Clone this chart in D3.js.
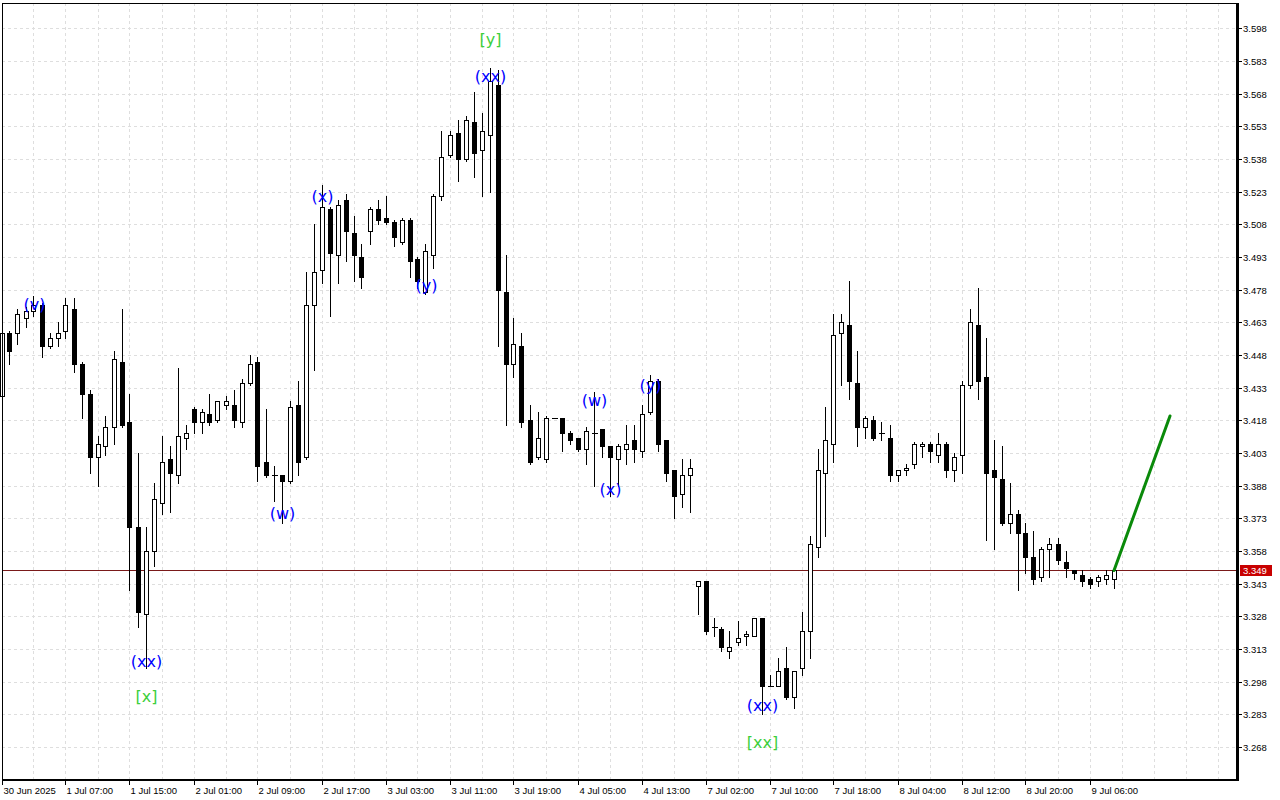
<!DOCTYPE html>
<html><head><meta charset="utf-8">
<script src="https://cdn.jsdelivr.net/npm/d3@7"></script>
<style>html,body{margin:0;padding:0;background:#fff;overflow:hidden;} svg{display:block;}</style>
</head><body><svg id="c" width="1280" height="800"></svg>
<script>
// ---- data (hourly candles) ----
const openP = [3.429,3.458,3.458,3.465,3.468,3.471,3.452,3.456,3.459,3.469,3.444,3.430,3.401,3.406,3.415,3.445,3.417,3.369,3.329,3.358,
3.380,3.400,3.393,3.410,3.423,3.417,3.421,3.418,3.425,3.425,3.417,3.435,3.445,3.399,3.393,3.393,3.390,3.425,3.401,3.471,
3.487,3.515,3.494,3.519,3.504,3.493,3.505,3.515,3.511,3.509,3.500,3.510,3.492,3.477,3.494,3.521,3.540,3.550,3.538,3.555,
3.542,3.549,3.572,3.477,3.444,3.452,3.418,3.401,3.400,3.419,3.419,3.412,3.410,3.405,3.412,3.414,3.406,3.400,3.405,3.409,
3.404,3.422,3.436,3.409,3.395,3.384,3.393,3.342,3.344,3.323,3.322,3.312,3.316,3.319,3.319,3.327,3.296,3.296,3.304,3.291,
3.304,3.321,3.360,3.394,3.407,3.458,3.462,3.435,3.415,3.418,3.412,3.410,3.393,3.395,3.398,3.406,3.407,3.402,3.407,3.395,
3.402,3.434,3.462,3.438,3.395,3.391,3.371,3.375,3.366,3.355,3.346,3.359,3.361,3.353,3.349,3.347,3.345,3.344,3.345,3.345];
const highP = [3.460,3.459,3.469,3.470,3.475,3.472,3.458,3.463,3.474,3.474,3.445,3.432,3.411,3.420,3.450,3.469,3.430,3.403,3.369,3.389,
3.411,3.406,3.442,3.416,3.424,3.423,3.430,3.427,3.429,3.432,3.437,3.448,3.447,3.423,3.397,3.393,3.427,3.436,3.486,3.508,
3.526,3.516,3.519,3.522,3.512,3.499,3.516,3.519,3.521,3.510,3.511,3.511,3.493,3.499,3.522,3.551,3.551,3.556,3.558,3.569,
3.559,3.580,3.579,3.494,3.465,3.458,3.425,3.422,3.420,3.419,3.419,3.413,3.410,3.415,3.431,3.414,3.406,3.407,3.416,3.416,
3.425,3.439,3.437,3.409,3.395,3.400,3.400,3.344,3.344,3.327,3.323,3.321,3.326,3.321,3.327,3.327,3.301,3.309,3.314,3.303,
3.330,3.365,3.405,3.424,3.467,3.467,3.482,3.450,3.420,3.420,3.417,3.416,3.395,3.398,3.408,3.408,3.408,3.412,3.408,3.403,
3.436,3.469,3.479,3.456,3.409,3.406,3.389,3.377,3.371,3.367,3.360,3.364,3.364,3.358,3.349,3.349,3.346,3.347,3.349,3.350];
const lowP = [3.428,3.444,3.453,3.461,3.466,3.447,3.451,3.452,3.456,3.440,3.419,3.394,3.388,3.402,3.407,3.415,3.340,3.323,3.304,3.351,
3.375,3.376,3.389,3.405,3.412,3.412,3.416,3.417,3.423,3.415,3.415,3.434,3.390,3.392,3.381,3.371,3.389,3.393,3.400,3.441,
3.481,3.466,3.481,3.491,3.482,3.479,3.499,3.508,3.508,3.498,3.499,3.484,3.479,3.476,3.488,3.519,3.539,3.528,3.537,3.530,
3.521,3.523,3.452,3.416,3.438,3.415,3.398,3.400,3.399,3.419,3.404,3.407,3.404,3.398,3.388,3.401,3.383,3.388,3.398,3.399,
3.401,3.421,3.404,3.390,3.373,3.378,3.376,3.329,3.320,3.319,3.312,3.309,3.315,3.315,3.319,3.283,3.296,3.296,3.290,3.286,
3.301,3.309,3.355,3.365,3.399,3.434,3.428,3.406,3.410,3.409,3.409,3.390,3.390,3.393,3.396,3.401,3.399,3.399,3.392,3.390,
3.394,3.433,3.428,3.363,3.359,3.370,3.366,3.340,3.348,3.343,3.344,3.346,3.352,3.346,3.345,3.342,3.341,3.342,3.343,3.341];
const closeP = [3.458,3.450,3.467,3.468,3.471,3.452,3.456,3.458,3.471,3.444,3.430,3.401,3.407,3.415,3.446,3.416,3.369,3.330,3.358,3.382,
3.399,3.394,3.411,3.412,3.417,3.422,3.417,3.427,3.427,3.418,3.435,3.444,3.397,3.393,3.393,3.390,3.424,3.399,3.471,3.486,
3.516,3.495,3.517,3.505,3.494,3.484,3.515,3.510,3.509,3.502,3.510,3.491,3.482,3.496,3.521,3.539,3.549,3.538,3.556,3.541,
3.551,3.574,3.478,3.444,3.453,3.417,3.399,3.410,3.419,3.419,3.412,3.409,3.405,3.413,3.412,3.406,3.401,3.406,3.407,3.405,
3.421,3.436,3.407,3.394,3.383,3.393,3.396,3.344,3.321,3.323,3.314,3.314,3.318,3.320,3.327,3.296,3.296,3.303,3.291,3.303,
3.321,3.361,3.395,3.409,3.457,3.463,3.436,3.415,3.419,3.410,3.412,3.393,3.395,3.396,3.407,3.407,3.404,3.407,3.395,3.401,
3.434,3.463,3.436,3.394,3.392,3.371,3.375,3.366,3.355,3.345,3.359,3.361,3.354,3.350,3.348,3.344,3.343,3.346,3.347,3.349];

const timeLabels = ["30 Jun 2025","1 Jul 07:00","1 Jul 15:00","2 Jul 01:00","2 Jul 09:00","2 Jul 17:00","3 Jul 03:00","3 Jul 11:00","3 Jul 19:00",
"4 Jul 05:00","4 Jul 13:00","7 Jul 02:00","7 Jul 10:00","7 Jul 18:00","8 Jul 04:00","8 Jul 12:00","8 Jul 20:00","9 Jul 06:00"];
const timeLabelBars = [0,8,16,24,32,40,48,56,64,72,80,88,96,104,112,120,128,136];
const gridBars = [4,8,12,16,20,24,28,32,36,40,44,48,52,56,60,64,68,72,76,80,84,88,92,96,100,104,108,112,116,120,124,128,132,136,140,144,148,152];
const priceTicks = [3.268,3.283,3.298,3.313,3.328,3.343,3.358,3.373,3.388,3.403,3.418,3.433,3.448,3.463,3.478,3.493,3.508,3.523,3.538,3.553,3.568,3.583,3.598];
const lastPrice = 3.349;
const forecastBars = [139, 146];
const forecastPrices = [3.349, 3.420];

const waveText   = ["(v)","(xx)","[x]","(w)","(x)","(y)","[y]","(xx)","(w)","(x)","(y)","(xx)","[xx]"];
const waveBar    = [4, 18, 18, 35, 40, 53, 61, 61, 74, 76, 81, 95, 95];
const wavePrice  = [3.471, 3.307, 3.291, 3.375, 3.521, 3.480, 3.593, 3.576, 3.427, 3.386, 3.434, 3.287, 3.270];
const waveDegree = ["minor","minor","major","minor","minor","minor","major","minor","minor","minor","minor","minor","major"];

// ---- layout ----
const L = 2, R = 1237, T = 3, B = 779;
const svg = d3.select("#c");
const x = d3.scaleLinear().domain([0, (R - L) / 8]).range([L + 0.5, R + 0.5]);
const y = d3.scaleLinear().domain([3.25321, 3.61109]).range([779, 0]);
const px = v => Math.round(x(v)) - 0.5;   // crisp pixel column centre
const py = v => Math.round(y(v)) + 0.5;

svg.append("rect").attr("width",1280).attr("height",800).attr("fill","#fff");

// grid
const g = svg.append("g").attr("stroke","#dedede").attr("stroke-dasharray","3,3").attr("shape-rendering","crispEdges");
g.selectAll("line.h").data(priceTicks).join("line")
  .attr("x1", L).attr("x2", R - 1).attr("y1", d => py(d)).attr("y2", d => py(d));
g.selectAll("line.v").data(gridBars.filter(b => x(b) < R - 2)).join("line")
  .attr("class","v")
  .attr("x1", d => px(d)).attr("x2", d => px(d)).attr("y1", T).attr("y2", B);

// last price line
svg.append("line").attr("x1", L).attr("x2", R).attr("y1", py(lastPrice)).attr("y2", py(lastPrice))
  .attr("stroke","#7a1a1a").attr("stroke-width",1).attr("shape-rendering","crispEdges");

// candles
const idx = d3.range(openP.length);
const cg = svg.append("g").attr("shape-rendering","crispEdges");
cg.selectAll("line.w").data(idx).join("line")
  .attr("x1", i => px(i)).attr("x2", i => px(i))
  .attr("y1", i => Math.round(y(highP[i]))).attr("y2", i => Math.round(y(lowP[i])) + 1)
  .attr("stroke","#000").attr("stroke-width",1);
cg.selectAll("rect.b").data(idx.filter(i => Math.abs(Math.round(y(openP[i])) - Math.round(y(closeP[i]))) >= 1)).join("rect")
  .attr("x", i => px(i) - 2)
  .attr("width", 4)
  .attr("y", i => Math.round(y(Math.max(openP[i], closeP[i]))) + 0.5)
  .attr("height", i => Math.round(y(Math.min(openP[i], closeP[i]))) - Math.round(y(Math.max(openP[i], closeP[i]))))
  .attr("fill", i => closeP[i] >= openP[i] ? "#fff" : "#000")
  .attr("stroke","#000").attr("stroke-width",1);
cg.selectAll("line.d").data(idx.filter(i => Math.abs(Math.round(y(openP[i])) - Math.round(y(closeP[i]))) < 1)).join("line")
  .attr("x1", i => px(i) - 2.5).attr("x2", i => px(i) + 3.5)
  .attr("y1", i => py(openP[i])).attr("y2", i => py(openP[i]))
  .attr("stroke","#000");

// forecast line
svg.append("line")
  .attr("x1", x(forecastBars[0]) - 0.5).attr("y1", y(forecastPrices[0]))
  .attr("x2", x(forecastBars[1]) - 0.5).attr("y2", y(forecastPrices[1]))
  .attr("stroke","#0a8a0a").attr("stroke-width",3).attr("stroke-linecap","round");

// wave labels
svg.selectAll("text.wave").data(d3.range(waveText.length)).join("text")
  .attr("x", i => x(waveBar[i]))
  .attr("y", i => y(wavePrice[i]))
  .attr("text-anchor","middle").attr("dominant-baseline","central")
  .attr("font-family","'DejaVu Sans', Verdana, sans-serif").attr("font-size",16)
  .attr("fill", i => waveDegree[i] === "major" ? "#3ccf3c" : "#0000ff")
  .text(i => waveText[i]);

// frame
svg.append("line").attr("x1",L+0.5).attr("x2",L+0.5).attr("y1",T).attr("y2",B).attr("stroke","#000").attr("shape-rendering","crispEdges");
svg.append("line").attr("x1",L).attr("x2",R).attr("y1",T+0.5).attr("y2",T+0.5).attr("stroke","#000").attr("shape-rendering","crispEdges");
svg.append("line").attr("x1",L).attr("x2",R+2).attr("y1",B+0.5).attr("y2",B+0.5).attr("stroke","#000").attr("stroke-width",2).attr("shape-rendering","crispEdges");
svg.append("line").attr("x1",R+0.5).attr("x2",R+0.5).attr("y1",T).attr("y2",B+1).attr("stroke","#000").attr("stroke-width",2.5).attr("shape-rendering","crispEdges");

// price axis
const ya = svg.append("g");
ya.selectAll("line").data(priceTicks).join("line")
  .attr("x1", R + 1).attr("x2", R + 5).attr("y1", d => py(d)).attr("y2", d => py(d))
  .attr("stroke","#000").attr("shape-rendering","crispEdges");
ya.selectAll("text").data(priceTicks).join("text")
  .attr("x", R + 6).attr("y", d => py(d) + 3.5)
  .attr("font-family","'Liberation Sans', Arial, sans-serif").attr("font-size",9.5).attr("fill","#000")
  .text(d => d3.format(".3f")(d));

// last price tag
const tagY = py(lastPrice);
svg.append("rect").attr("x", R + 3).attr("y", tagY - 5.5).attr("width", 32).attr("height", 11).attr("fill","#c80000");
svg.append("text").attr("x", R + 6).attr("y", tagY + 3.5)
  .attr("font-family","'Liberation Sans', Arial, sans-serif").attr("font-size",9.5).attr("fill","#fff")
  .text(d3.format(".3f")(lastPrice));

// time axis
const xa = svg.append("g");
xa.selectAll("line").data(timeLabelBars).join("line")
  .attr("x1", b => px(b)).attr("x2", b => px(b)).attr("y1", B + 1).attr("y2", B + 6)
  .attr("stroke","#000").attr("shape-rendering","crispEdges");
xa.selectAll("text").data(d3.range(timeLabels.length)).join("text")
  .attr("x", i => px(timeLabelBars[i]) + 1).attr("y", 794)
  .attr("font-family","'Liberation Sans', Arial, sans-serif").attr("font-size",9.5).attr("fill","#000")
  .text(i => timeLabels[i]);
</script></body></html>
